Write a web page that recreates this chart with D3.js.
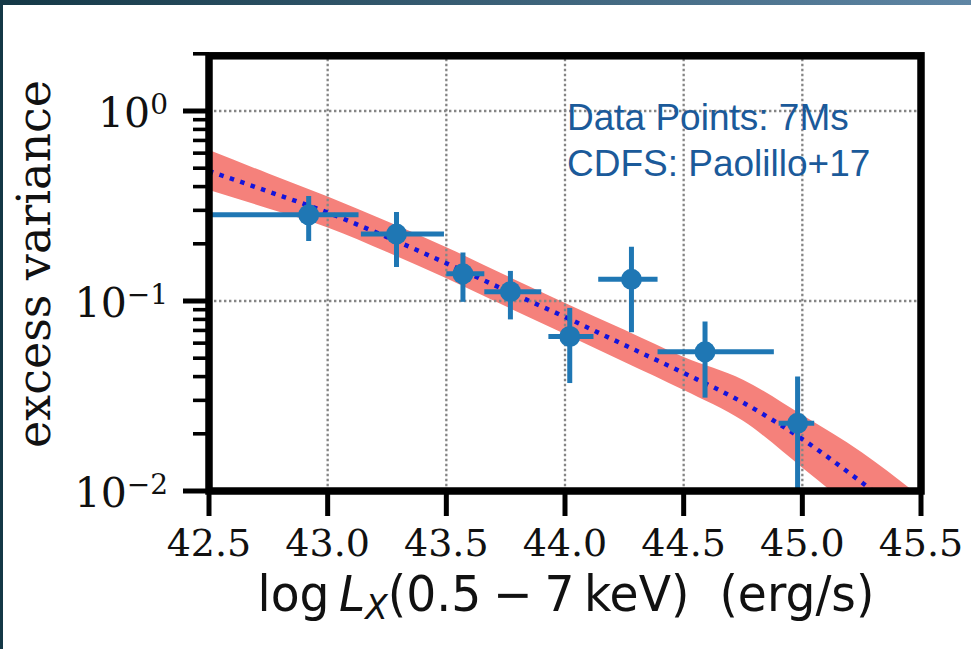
<!DOCTYPE html>
<html>
<head>
<meta charset="utf-8">
<script src="https://cdn.jsdelivr.net/npm/d3@7"></script>
<style>
  html, body { margin: 0; padding: 0; background: #ffffff; }
  svg { display: block; }
  text { white-space: pre; }
</style>
</head>
<body>
<svg id="chart" width="971" height="649"></svg>
<script>
// Binned excess variance vs. X-ray luminosity (7Ms CDFS)
const lumX      = [42.92, 43.29, 43.57, 43.77, 44.02, 44.28, 44.59, 44.98];
const lumLo     = [42.20, 43.14, 43.50, 43.66, 43.93, 44.14, 44.39, 44.90];
const lumHi     = [43.13, 43.49, 43.66, 43.90, 44.12, 44.39, 44.88, 45.05];
const excessVar = [0.284, 0.225, 0.139, 0.112, 0.065, 0.130, 0.054, 0.0227];
const varLo     = [0.207, 0.151, 0.099, 0.080, 0.037, 0.0685, 0.031, 0.005];
const varHi     = [0.357, 0.294, 0.180, 0.144, 0.092, 0.193, 0.078, 0.040];

// Model prediction: median curve and its confidence band
const modelX    = [42.5, 42.75, 43.0, 43.25, 43.5, 43.75, 44.0, 44.25, 44.5, 44.75, 45.0, 45.25, 45.5];
const modelMid  = [0.483, 0.377, 0.292, 0.217, 0.158, 0.1138, 0.0824, 0.0587, 0.0418, 0.0292, 0.01875, 0.0111, 0.0063];
const modelUp   = [0.623, 0.469, 0.355, 0.263, 0.192, 0.1365, 0.0976, 0.0705, 0.0507, 0.0385, 0.0251, 0.0160, 0.00929];
const modelDn   = [0.384, 0.307, 0.244, 0.181, 0.1318, 0.0938, 0.0670, 0.0478, 0.0340, 0.0234, 0.01327, 0.00738, 0.00408];

const xTicks = [42.5, 43.0, 43.5, 44.0, 44.5, 45.0, 45.5];
const yMajor = [1, 0.1, 0.01];
const yExp   = ["0", "\u22121", "\u22122"];
const annotation = ["Data Points: 7Ms", "CDFS: Paolillo+17"];

const svg = d3.select("#chart");
const W = 971, H = 649;

// slide frame: gradient bar on top, dark rule on the left
const defs = svg.append("defs");
const grad = defs.append("linearGradient").attr("id", "topbar");
grad.append("stop").attr("offset", "0%").attr("stop-color", "#143846");
grad.append("stop").attr("offset", "100%").attr("stop-color", "#5f86a5");
svg.append("rect").attr("x", 0).attr("y", 0).attr("width", W).attr("height", 5).attr("fill", "url(#topbar)");
svg.append("rect").attr("x", 0).attr("y", 0).attr("width", 3).attr("height", H).attr("fill", "#143846");

const L = 209, R = 921, T = 53.8, B = 491;
const x = d3.scaleLinear().domain([42.5, 45.5]).range([L, R]);
const y = d3.scaleLog().domain([0.01, 2]).range([B, T]);

defs.append("clipPath").attr("id", "plotclip")
  .append("rect").attr("x", L).attr("y", T).attr("width", R - L).attr("height", B - T);

const plot = svg.append("g").attr("clip-path", "url(#plotclip)");

// confidence band
const band = d3.area()
  .x((d, i) => x(modelX[i]))
  .y0((d, i) => y(modelDn[i]))
  .y1((d, i) => y(modelUp[i]))
  .curve(d3.curveMonotoneX);
plot.append("path").datum(modelX).attr("d", band).attr("fill", "#f5817b");

// grid (dotted, above the band)
const gridStyle = g => g.attr("stroke", "#858585").attr("stroke-width", 2.3).attr("stroke-dasharray", "2.4,2.6");
plot.selectAll(".gx").data(xTicks.slice(1, -1)).join("line")
  .attr("x1", d => x(d)).attr("x2", d => x(d)).attr("y1", T).attr("y2", B).call(gridStyle);
plot.selectAll(".gy").data(yMajor.slice(0, 2)).join("line")
  .attr("x1", L).attr("x2", R).attr("y1", d => y(d)).attr("y2", d => y(d)).call(gridStyle);

// model median curve
const mid = d3.line()
  .x((d, i) => x(modelX[i]))
  .y((d, i) => y(modelMid[i]))
  .curve(d3.curveMonotoneX);
plot.append("path").datum(modelX).attr("d", mid)
  .attr("fill", "none").attr("stroke", "#1414dc").attr("stroke-width", 4.5)
  .attr("stroke-dasharray", "4.5,6.5");

// data points with error bars
const blue = "#1f77b4";
const pts = plot.selectAll(".pt").data(lumX).join("g");
pts.append("line")
  .attr("x1", (d, i) => x(lumLo[i])).attr("x2", (d, i) => x(lumHi[i]))
  .attr("y1", (d, i) => y(excessVar[i])).attr("y2", (d, i) => y(excessVar[i]))
  .attr("stroke", blue).attr("stroke-width", 5);
pts.append("line")
  .attr("x1", d => x(d)).attr("x2", d => x(d))
  .attr("y1", (d, i) => y(varLo[i])).attr("y2", (d, i) => y(varHi[i]))
  .attr("stroke", blue).attr("stroke-width", 5);
pts.append("circle")
  .attr("cx", d => x(d)).attr("cy", (d, i) => y(excessVar[i])).attr("r", 10.5)
  .attr("fill", blue);

// ticks
const ax = svg.append("g");
ax.selectAll(".xt").data(xTicks).join("line")
  .attr("x1", d => x(d)).attr("x2", d => x(d)).attr("y1", B).attr("y2", B + 25)
  .attr("stroke", "#000").attr("stroke-width", 5);
const yMinor = [];
[0.01, 0.1, 1].forEach(dec => { for (let k = 2; k <= 9; k++) { const v = k * dec; if (v <= 2.0001) yMinor.push(v); } });
ax.selectAll(".ymn").data(yMinor).join("line")
  .attr("x1", L - 16).attr("x2", L).attr("y1", d => y(d)).attr("y2", d => y(d))
  .attr("stroke", "#000").attr("stroke-width", 3.6);
ax.selectAll(".ymj").data(yMajor).join("line")
  .attr("x1", L - 26).attr("x2", L).attr("y1", d => y(d)).attr("y2", d => y(d))
  .attr("stroke", "#000").attr("stroke-width", 5);

// spines
svg.append("rect").attr("x", L).attr("y", T + 2).attr("width", R - L).attr("height", B - T - 2)
  .attr("fill", "none").attr("stroke", "#000").attr("stroke-width", 7.5);

// tick labels
const serif = "'DejaVu Serif', serif";
ax.selectAll(".xl").data(xTicks).join("text")
  .attr("x", d => x(d)).attr("y", B + 65)
  .attr("text-anchor", "middle").attr("font-family", serif).attr("font-size", 38).attr("fill", "#111")
  .text(d => d3.format(".1f")(d));

const yl = ax.selectAll(".yl").data(yMajor).join("text")
  .attr("x", 168).attr("y", d => y(d) + 16)
  .attr("text-anchor", "end").attr("font-family", serif).attr("font-size", 41).attr("fill", "#111");
yl.append("tspan").text("10");
yl.append("tspan").attr("dy", -13).attr("font-size", 28).text((d, i) => yExp[i]);

// axis titles
const ylab = svg.append("text")
  .attr("text-anchor", "middle").attr("font-family", serif).attr("font-size", 47).attr("fill", "#111")
  .text("excess variance");
{
  const w = ylab.node().getComputedTextLength();
  ylab.attr("transform", `translate(50, 264) rotate(-90) scale(${368 / w}, 1)`);
}

const xt = svg.append("text")
  .attr("text-anchor", "middle").attr("font-family", "'DejaVu Sans', sans-serif").attr("font-size", 49).attr("fill", "#111");
xt.append("tspan").text("log\u2009");
xt.append("tspan").attr("font-style", "italic").text("L");
xt.append("tspan").attr("font-style", "italic").attr("font-size", 34).attr("dy", 8).text("X");
xt.append("tspan").attr("dy", -8).text("(0.5\u2005\u2212\u20057\u2009keV)  (erg/s)");
{
  const w = xt.node().getComputedTextLength();
  xt.attr("transform", `translate(566, 611) scale(${617 / w}, 1)`);
}

// annotation
svg.selectAll(".ann").data(annotation).join("text")
  .attr("x", 567).attr("y", (d, i) => 130 + i * 46)
  .attr("font-family", "'Liberation Sans', Arial, sans-serif").attr("font-size", 37)
  .attr("fill", "#1b5a9a")
  .text(d => d);
</script>
</body>
</html>
